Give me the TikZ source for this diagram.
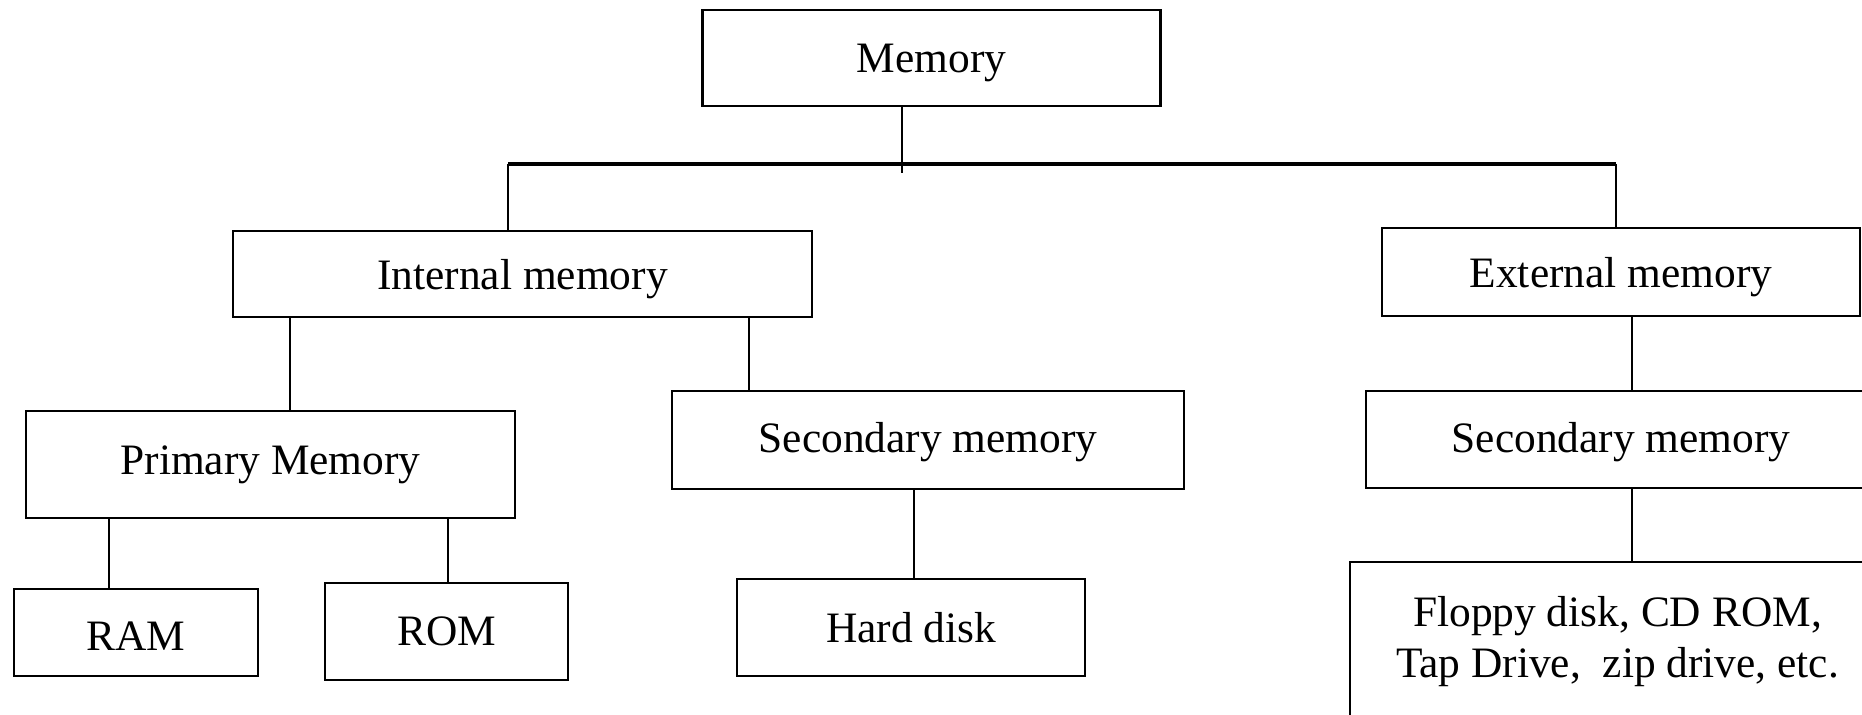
\documentclass[tikz,border=0pt]{standalone}
\usepackage{fontspec}
\setmainfont{Liberation Serif}
\begin{document}
\begin{tikzpicture}[x=0.5pt,y=-0.5pt,
  box/.style={draw, line width=1.1pt, inner sep=0pt, align=center,
    font=\fontsize{21.7}{25.5}\selectfont},
  nodepth/.style={text depth=0pt},
  txt/.style={inner sep=0pt, align=center, font=\fontsize{21.7}{25.5}\selectfont},
  conn/.style={line width=1pt},
  barline/.style={line width=1.6pt}]
\useasboundingbox (0,0) rectangle (1862,715);

% boxes
\node[box, nodepth, minimum width=229pt, minimum height=48pt] (mem) at (931.5,58) {Memory};
\node[box, nodepth, minimum width=289.5pt, minimum height=43pt] (int) at (522.5,274) {Internal memory};
\node[box, nodepth, minimum width=239pt, minimum height=44pt] (ext) at (1621,272) {External memory};
\node[box, minimum width=244.5pt, minimum height=53.5pt] (prim) at (270.5,464.5) {Primary Memory};
\node[box, text depth=2.5pt, minimum width=256pt, minimum height=49pt] (sec1) at (928,440) {Secondary memory};
\node[box, text depth=2.5pt, minimum width=255pt, minimum height=48.5pt] (sec2) at (1621,439.5) {Secondary memory};
\node[box, nodepth, text height=17.8pt, minimum width=122pt, minimum height=43.5pt] (ram) at (136,632.5) {RAM};
\node[box, minimum width=121.5pt, minimum height=48.5pt] (rom) at (446.5,631.5) {ROM};
\node[box, minimum width=174pt, minimum height=48.5pt] (hd) at (911,627.5) {Hard disk};
\node[box, minimum width=268pt, minimum height=100pt, anchor=north] (flop) at (1618,561) {};
\node[txt] (floptext) at (1617.5,642) {Floppy disk, CD ROM,\\Tap Drive,\ \ zip drive, etc.};

% connector coordinates
\coordinate (s0) at (902,173);
\coordinate (bL) at (508,164);
\coordinate (bR) at (1616,164);
\coordinate (c1) at (290,0);
\coordinate (c2) at (749,0);
\coordinate (c3) at (109,0);
\coordinate (c4) at (448,0);
\coordinate (c5) at (914,0);
\coordinate (c6) at (1632,0);

% connectors
\draw[conn] (mem.south -| s0) -- (s0);
\draw[barline] (bL) -- (bR);
\draw[conn] (bL) -- (bL |- int.north);
\draw[conn] (bR) -- (bR |- ext.north);
\draw[conn] (int.south -| c1) -- (prim.north -| c1);
\draw[conn] (int.south -| c2) -- (sec1.north -| c2);
\draw[conn] (prim.south -| c3) -- (ram.north -| c3);
\draw[conn] (prim.south -| c4) -- (rom.north -| c4);
\draw[conn] (sec1.south -| c5) -- (hd.north -| c5);
\draw[conn] (ext.south -| c6) -- (sec2.north -| c6);
\draw[conn] (sec2.south -| c6) -- (flop.north -| c6);
\end{tikzpicture}
\end{document}
